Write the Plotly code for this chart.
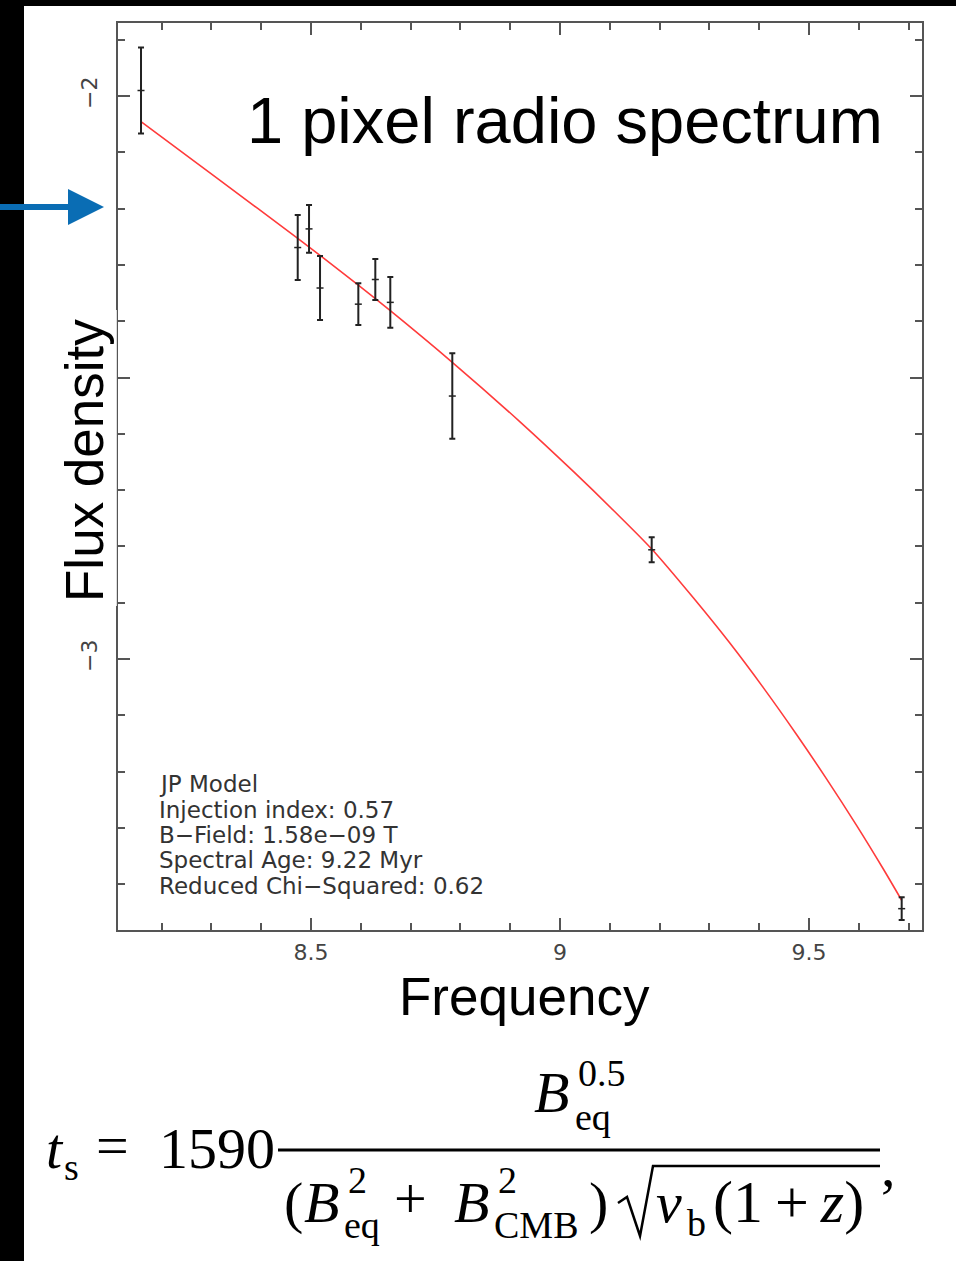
import plotly.graph_objects as go

W, H = 956, 1261

# ---------------- data (log10 frequency [Hz], log10 flux density) ----------------
freq_log = [8.1586, 8.4733, 8.4960, 8.5181, 8.5950, 8.6291, 8.6592, 8.7837, 9.1841, 9.6861]
flux_log = [-1.9902, -2.2691, -2.2360, -2.3410, -2.3697, -2.3259, -2.3665, -2.5329, -2.8060, -3.4434]
flux_err = [0.0764, 0.0577, 0.0424, 0.0568, 0.0370, 0.0364, 0.0450, 0.0758, 0.0222, 0.0202]

model_x = [8.1586, 8.3139, 8.4733, 8.5950, 8.6592, 8.7831, 8.9197, 9.0267, 9.1070,
           9.1841, 9.2677, 9.3414, 9.4082, 9.4753, 9.5355, 9.5958, 9.6492, 9.6861]
model_y = [-2.0456, -2.1478, -2.2528, -2.3357, -2.3812, -2.4725, -2.5787, -2.6668, -2.7357,
           -2.8046, -2.8913, -2.9721, -3.0508, -3.1345, -3.2133, -3.2959, -3.3730, -3.4286]

x_range = [8.1124, 9.7269]
y_range = [-3.4813, -1.8703]
x_ticks = [8.5, 9.0, 9.5]
x_ticktext = ["8.5", "9", "9.5"]
y_ticks = [-3.0, -2.5, -2.0]
y_ticktext = ["\u22123", "", "\u22122"]

fit_lines = ["JP Model", "Injection index: 0.57", "B\u2212Field: 1.58e\u221209 T",
             "Spectral Age: 9.22 Myr", "Reduced Chi\u2212Squared: 0.62"]

title_text = "1 pixel radio spectrum"
x_title = "Frequency"
y_title = "Flux density"

# ---------------- helpers ----------------
def px(x):
    return x / W

def py(y):
    return 1 - y / H

AX = "#555555"

fig = go.Figure()

fig.add_trace(go.Scatter(
    x=model_x, y=model_y, mode="lines",
    line=dict(color="#ff3b3b", width=1.6, shape="spline", smoothing=0.8), hoverinfo="skip"))

fig.add_trace(go.Scatter(
    x=freq_log, y=flux_log, mode="markers",
    marker=dict(symbol="line-ew", size=5, color="#222", line=dict(color="#222", width=1.5)),
    error_y=dict(type="data", array=flux_err, visible=True, color="#222", thickness=2, width=3)))

axis_common = dict(
    showline=True, linecolor=AX, linewidth=2, mirror="ticks",
    ticks="inside", ticklen=12, tickwidth=2, tickcolor=AX,
    showgrid=False, zeroline=False,
    tickfont=dict(family="DejaVu Sans", size=22, color="#444"),
)

fig.update_xaxes(
    **axis_common, range=x_range, domain=[px(118), px(922)],
    tickmode="array", tickvals=x_ticks, ticktext=x_ticktext, ticklabelstandoff=2,
    minor=dict(ticks="inside", ticklen=7, tickwidth=2, tickcolor=AX, tickmode="linear", tick0=0, dtick=0.1, showgrid=False),
)
fig.update_yaxes(
    **axis_common, range=y_range, domain=[py(930), py(23)],
    tickmode="array", tickvals=y_ticks, ticktext=y_ticktext, tickangle=-90, ticklabelstandoff=10,
    minor=dict(ticks="inside", ticklen=7, tickwidth=2, tickcolor=AX, tickmode="linear", tick0=0, dtick=0.1, showgrid=False),
)

shapes = []
# black frame strips
shapes.append(dict(type="rect", xref="paper", yref="paper", x0=0, x1=px(24), y0=0, y1=1,
                   fillcolor="black", line=dict(width=0), layer="above"))
shapes.append(dict(type="rect", xref="paper", yref="paper", x0=0, x1=1, y0=py(6), y1=1,
                   fillcolor="black", line=dict(width=0), layer="above"))
# white box behind the y-axis title
shapes.append(dict(type="rect", xref="paper", yref="paper", x0=px(24), x1=px(116.8), y0=py(606), y1=py(310),
                   fillcolor="white", line=dict(width=0), layer="above"))
# blue arrow
pts = [(0, 204), (68, 204), (68, 189), (104, 207), (68, 225), (68, 210), (0, 210)]
path = "M " + " L ".join(f"{px(a):.5f},{py(b):.5f}" for a, b in pts) + " Z"
shapes.append(dict(type="path", xref="paper", yref="paper", path=path,
                   fillcolor="#0a6db4", line=dict(width=0), layer="above"))
# formula: fraction bar, radical
shapes.append(dict(type="line", xref="paper", yref="paper", x0=px(278), x1=px(880), y0=py(1150), y1=py(1150),
                   line=dict(color="black", width=3), layer="above"))
rad = [(618, 1203), (627, 1197), (640, 1236), (653, 1166), (880, 1166)]
rpath = "M " + " L ".join(f"{px(a):.5f},{py(b):.5f}" for a, b in rad)
shapes.append(dict(type="path", xref="paper", yref="paper", path=rpath,
                   line=dict(color="black", width=2.5), layer="above"))

annotations = []

def text(x, base, s, size, family="Liberation Serif", color="black", xanchor="left", off=0.34):
    annotations.append(dict(
        x=px(x), y=py(base - off * size), xref="paper", yref="paper",
        text=s, showarrow=False, xanchor=xanchor, yanchor="middle",
        font=dict(family=family, size=size, color=color), borderpad=0))

# title & axis titles
text(246, 143, title_text, 65, family="Liberation Sans")
text(524, 1015, x_title, 53, family="Liberation Sans", xanchor="center")
annotations.append(dict(x=px(84), y=py(461), xref="paper", yref="paper", text=y_title,
                        showarrow=False, textangle=-90, xanchor="center", yanchor="middle",
                        font=dict(family="Liberation Sans", size=53, color="black")))

# fit info
bases = [792, 817.4, 842.8, 868.2, 893.6]
for b, s in zip(bases, fit_lines):
    text(158, b, s, 23, family="DejaVu Sans", color="#333")

# formula
F, f = 58, 38
text(45, 1168, "<i>t</i>", F)
text(63, 1180, "s", f)
text(95, 1165, "=", F)
text(158, 1168, "1590", F)
# numerator
text(533, 1112, "<i>B</i>", F)
text(577, 1086, "0.5", f)
text(574, 1130, "eq", f)
# denominator
text(283, 1222, "(", F)
text(303, 1222, "<i>B</i>", F)
text(347, 1193, "2", f)
text(343, 1238, "eq", f)
text(393, 1218, "+", F)
text(453, 1222, "<i>B</i>", F)
text(497, 1193, "2", f)
text(493, 1238, "CMB", f)
text(588, 1222, ")", F)
text(655, 1222, "<i>\u03bd</i>", F)
text(686, 1236, "b", f)
text(712, 1222, "(1\u2009+\u2009<i>z</i>)", 60)
text(880, 1186, ",", F)

fig.update_layout(
    width=W, height=H, autosize=False,
    margin=dict(l=0, r=0, t=0, b=0),
    paper_bgcolor="white", plot_bgcolor="white",
    showlegend=False, shapes=shapes, annotations=annotations,
)

fig.write_html("out.html")
